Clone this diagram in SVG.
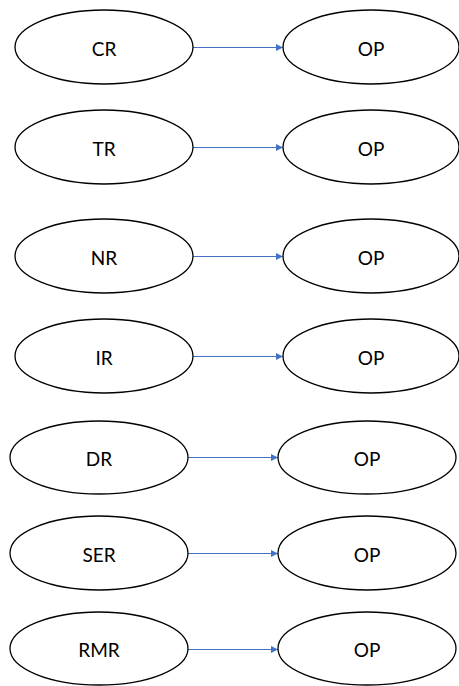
<svg xmlns="http://www.w3.org/2000/svg" width="459" height="686" viewBox="0 0 459 686">
<style>
.n ellipse{fill:#fff;stroke:#000;stroke-width:1.3}
.n text{font-family:Lato,"Liberation Sans",Arial,sans-serif;font-size:19px;fill:#000;text-anchor:middle;dominant-baseline:central}
.c line{stroke:#4472C4;stroke-width:1}
</style>
<defs>
<marker id="ah" viewBox="0 0 10 10" refX="10" refY="5" markerWidth="8" markerHeight="7" markerUnits="userSpaceOnUse" orient="auto">
<path d="M0,0 L10,5 L0,10 z" fill="#4472C4"/>
</marker>
</defs>
<rect width="459" height="686" fill="#fff"/>
<g class="c">
<line x1="193" y1="47.5" x2="283" y2="47.5" marker-end="url(#ah)"/>
<line x1="193" y1="147.5" x2="283" y2="147.5" marker-end="url(#ah)"/>
<line x1="193" y1="256.5" x2="283" y2="256.5" marker-end="url(#ah)"/>
<line x1="193" y1="356.5" x2="283" y2="356.5" marker-end="url(#ah)"/>
<line x1="188" y1="457.5" x2="278" y2="457.5" marker-end="url(#ah)"/>
<line x1="188" y1="553.5" x2="278" y2="553.5" marker-end="url(#ah)"/>
<line x1="188" y1="649.5" x2="278" y2="649.5" marker-end="url(#ah)"/>
</g>
<g id="CR" class="n"><ellipse cx="104" cy="47" rx="89" ry="37"/><text x="104" y="48">CR</text></g>
<g id="OP1" class="n"><ellipse cx="371" cy="47" rx="88" ry="37"/><text x="371" y="48">OP</text></g>
<g id="TR" class="n"><ellipse cx="104" cy="147" rx="89" ry="37"/><text x="104" y="148">TR</text></g>
<g id="OP2" class="n"><ellipse cx="371" cy="147" rx="88" ry="37"/><text x="371" y="148">OP</text></g>
<g id="NR" class="n"><ellipse cx="104" cy="256" rx="89" ry="37"/><text x="104" y="257">NR</text></g>
<g id="OP3" class="n"><ellipse cx="371" cy="256" rx="88" ry="37"/><text x="371" y="257">OP</text></g>
<g id="IR" class="n"><ellipse cx="104" cy="356" rx="89" ry="37"/><text x="104" y="357">IR</text></g>
<g id="OP4" class="n"><ellipse cx="371" cy="356" rx="88" ry="37"/><text x="371" y="357">OP</text></g>
<g id="DR" class="n"><ellipse cx="99" cy="457.5" rx="89" ry="36.5"/><text x="99" y="458.5">DR</text></g>
<g id="OP5" class="n"><ellipse cx="367" cy="457.5" rx="89" ry="36.5"/><text x="367" y="458.5">OP</text></g>
<g id="SER" class="n"><ellipse cx="99" cy="553" rx="89" ry="37"/><text x="99" y="554">SER</text></g>
<g id="OP6" class="n"><ellipse cx="367" cy="553" rx="89" ry="37"/><text x="367" y="554">OP</text></g>
<g id="RMR" class="n"><ellipse cx="99" cy="648.5" rx="89" ry="36.5"/><text x="99" y="649.5">RMR</text></g>
<g id="OP7" class="n"><ellipse cx="367" cy="648.5" rx="89" ry="36.5"/><text x="367" y="649.5">OP</text></g>
</svg>
